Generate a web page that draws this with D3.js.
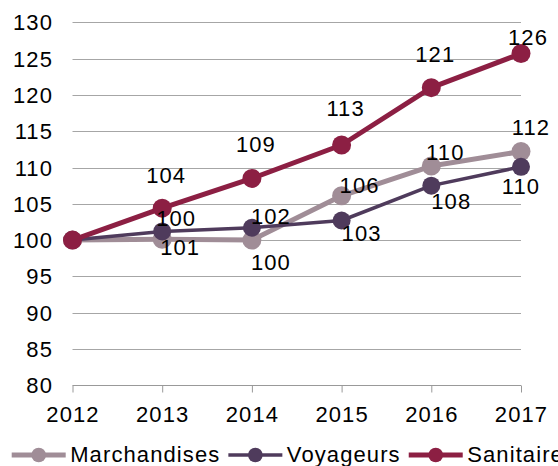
<!DOCTYPE html>
<html>
<head>
<meta charset="utf-8">
<script src="https://cdn.jsdelivr.net/npm/d3@7"></script>
<style>
    body { margin: 0; background: #fff; }
    text { font-family: "Liberation Sans", Arial, sans-serif; font-size: 22px; fill: #000; letter-spacing: 1.1px; }
</style>
</head>
<body>
<div class="viz"></div>
<script>
var width = 558,
    height = 466;

// data
const years = ["2012", "2013", "2014", "2015", "2016", "2017"];
const seriesNames = ["Marchandises", "Voyageurs", "Sanitaire"];
const marchandises = [100, 100.1, 100, 106.1, 110.2, 112.2];
const voyageurs = [100, 101.2, 101.7, 102.7, 107.5, 110.1];
const sanitaire = [100, 104.4, 108.5, 113.1, 121.0, 125.7];
const marchandisesLabels = [null, "100", "100", "106", "110", "112"];
const voyageursLabels = [null, "101", "102", "103", "108", "110"];
const sanitaireLabels = [null, "104", "109", "113", "121", "126"];
const yTicks = [80, 85, 90, 95, 100, 105, 110, 115, 120, 125, 130];

// styling per series (drawing order = order of this list)
const colors = ["#a08d97", "#4f3b5c", "#8c1f43"];
const lineWidths = [5, 3.5, 5];
const markerR = [9.5, 9, 9.5];
// label nudges relative to the marker centre, [dx, dy]
const labelNudge = [
    [null, [14, -21], [19, 22], [18, -11], [14, -14], [10, -25]],
    [null, [18, 16], [19, -12], [20, 13], [20, 15], [0, 19]],
    [null, [4, -33], [4, -34], [4, -37], [4, -34], [7, -17]],
];

var series = [marchandises, voyageurs, sanitaire];
var labels = [marchandisesLabels, voyageursLabels, sanitaireLabels];

var x = d3.scalePoint().domain(years).range([72.5, 521]);
var y = d3.scaleLinear().domain([80, 130]).range([385.3, 22.3]);

var svg = d3
    .select(".viz")
    .append("svg")
    .attr("width", width)
    .attr("height", height);

// gridlines
svg.append("g")
    .selectAll("line")
    .data(yTicks.filter((d) => d > 80))
    .enter()
    .append("line")
    .attr("x1", x.range()[0])
    .attr("x2", x.range()[1])
    .attr("y1", (d) => Math.round(y(d)) + 0.5)
    .attr("y2", (d) => Math.round(y(d)) + 0.5)
    .attr("stroke", "#a6a6a6")
    .attr("stroke-width", 1);

// y labels
svg.append("g")
    .selectAll("text")
    .data(yTicks)
    .enter()
    .append("text")
    .attr("x", 53)
    .attr("y", (d) => y(d) + 8)
    .attr("text-anchor", "end")
    .text((d) => d);

// x axis
var xAxis = d3.axisBottom(x).tickSize(7).tickSizeOuter(0);
var gx = svg
    .append("g")
    .attr("transform", `translate(0,${Math.round(y(80)) + 0.5})`)
    .call(xAxis);
gx.select(".domain").attr("stroke", "#999").attr("d", `M${x.range()[0]},0H${x.range()[1]}`);
gx.selectAll(".tick line").attr("stroke", "#999");
gx.selectAll(".tick text")
    .attr("y", 36.5)
    .attr("dy", null)
    .attr("font-size", null)
    .attr("font-family", null)
    .attr("fill", null)
    .style("font-size", "22px");

// series lines and markers
var line = d3
    .line()
    .x((d, i) => x(years[i]))
    .y((d) => y(d));

series.forEach((vals, s) => {
    var g = svg.append("g").attr("class", "series-" + s);
    g.append("path")
        .datum(vals)
        .attr("d", line)
        .attr("fill", "none")
        .attr("stroke", colors[s])
        .attr("stroke-width", lineWidths[s])
        .attr("stroke-linejoin", "round");
    g.selectAll("circle")
        .data(vals)
        .enter()
        .append("circle")
        .attr("cx", (d, i) => x(years[i]))
        .attr("cy", (d) => y(d))
        .attr("r", markerR[s])
        .attr("fill", colors[s]);
});

// data labels
series.forEach((vals, s) => {
    svg.append("g")
        .selectAll("text")
        .data(vals.map((v, i) => ({ v: v, i: i, t: labels[s][i] })).filter((d) => d.t))
        .enter()
        .append("text")
        .attr("text-anchor", "middle")
        .attr("x", (d) => x(years[d.i]) + labelNudge[s][d.i][0])
        .attr("y", (d) => y(d.v) + labelNudge[s][d.i][1] + 8)
        .text((d) => d.t);
});

// legend
var legend = svg.append("g").attr("class", "legend");
var lx = 11.7,
    ly = 455;
seriesNames.forEach((name, s) => {
    legend.append("line")
        .attr("x1", lx)
        .attr("x2", lx + 54)
        .attr("y1", ly)
        .attr("y2", ly)
        .attr("stroke", colors[s])
        .attr("stroke-width", lineWidths[s]);
    legend.append("circle")
        .attr("cx", lx + 27)
        .attr("cy", ly)
        .attr("r", 7.3)
        .attr("fill", colors[s]);
    var t = legend.append("text")
        .attr("x", lx + 58.5)
        .attr("y", 461.5)
        .text(name);
    lx = lx + 58.5 + t.node().getComputedTextLength() + 8;
});
</script>
</body>
</html>
